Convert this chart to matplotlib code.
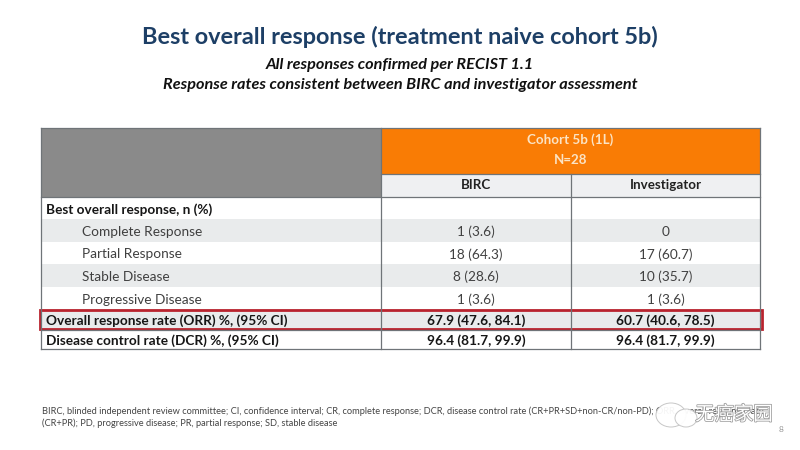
import matplotlib
matplotlib.use('Agg')
import matplotlib.pyplot as plt
import matplotlib.patheffects as pe
from matplotlib.patches import Rectangle, Ellipse

title = 'Best overall response (treatment naive cohort 5b)'
subtitles = ['All responses confirmed per RECIST 1.1',
             'Response rates consistent between BIRC and investigator assessment']
cohort_header = ['Cohort 5b (1L)', 'N=28']
columns = ['BIRC', 'Investigator']
row_labels = ['Best overall response, n (%)', 'Complete Response', 'Partial Response',
              'Stable Disease', 'Progressive Disease',
              'Overall response rate (ORR) %, (95% CI)', 'Disease control rate (DCR) %, (95% CI)']
birc = ['', '1 (3.6)', '18 (64.3)', '8 (28.6)', '1 (3.6)', '67.9 (47.6, 84.1)', '96.4 (81.7, 99.9)']
investigator = ['', '0', '17 (60.7)', '10 (35.7)', '1 (3.6)', '60.7 (40.6, 78.5)', '96.4 (81.7, 99.9)']
footnotes = ['BIRC, blinded independent review committee; CI, confidence interval; CR, complete response; DCR, disease control rate (CR+PR+SD+non-CR/non-PD); ORR, overall response rate',
             '(CR+PR); PD, progressive disease; PR, partial response; SD, stable disease']
watermark = '无癌家园'

plt.rcParams['font.family'] = ['Lato', 'Noto Sans CJK SC', 'DejaVu Sans']

fig = plt.figure(figsize=(8, 4.5), dpi=100)
ax = fig.add_axes([0, 0, 1, 1])
ax.set_xlim(0, 800)
ax.set_ylim(450, 0)
ax.axis('off')

# table layout in pixels
x0, x1, x2, x3 = 41, 381, 571, 760
row_y = [197, 219, 242, 264, 287, 309, 330, 349]
band = ['white', '#e9ebec', 'white', '#e9ebec', 'white', '#e9ebec', 'white']
line = '#6f7478'

def box(x, y, w, h, color):
    ax.add_patch(Rectangle((x, y), w, h, facecolor=color, edgecolor='none'))

box(x0, 128, x1 - x0, 197 - 128, '#8a8a8a')
box(x1, 128, x3 - x1, 174 - 128, '#f97c05')
box(x1, 174, x3 - x1, 197 - 174, '#eff0f2')

for i, label in enumerate(row_labels):
    top, bottom = row_y[i], row_y[i + 1]
    mid = (top + bottom) / 2 + 0.5
    box(x0, top, x3 - x0, bottom - top, band[i])
    main = i == 0 or i >= 5
    weight = 'bold' if main else 'normal'
    color = '#161616' if main else '#404040'
    ax.text(x0 + 5 if main else 82, mid, label, fontsize=9.8, va='center_baseline', ha='left',
            fontweight=weight, color=color)
    ax.text((x1 + x2) / 2, mid, birc[i], fontsize=9.8, va='center_baseline', ha='center',
            fontweight=weight, color=color)
    ax.text((x2 + x3) / 2, mid, investigator[i], fontsize=9.8, va='center_baseline', ha='center',
            fontweight=weight, color=color)

# grid lines
ax.plot([x0, x3], [128, 128], color=line, lw=0.9)
ax.plot([x1, x3], [174, 174], color=line, lw=0.9)
ax.plot([x0, x3], [197, 197], color=line, lw=0.9)
ax.plot([x0, x3], [349, 349], color=line, lw=0.9)
ax.plot([x0, x0], [128, 349], color=line, lw=0.9)
ax.plot([x3, x3], [128, 349], color=line, lw=0.9)
ax.plot([x1, x1], [128, 349], color=line, lw=0.9)
ax.plot([x2, x2], [174, 349], color=line, lw=0.9)
ax.plot([x0, x3], [330, 330], color=line, lw=0.9)

# red highlight around ORR row
ax.add_patch(Rectangle((40, 309.5), 722, 19.5, facecolor='none', edgecolor='#b9232e', lw=2))

ax.text(400, 37, title, fontsize=16.9, fontweight='bold', color='#1d3f66', ha='center', va='center')
ax.text(400, 65, subtitles[0], fontsize=11.7, fontweight='bold', style='italic', color='#111111', ha='center', va='center')
ax.text(400, 85, subtitles[1], fontsize=11.7, fontweight='bold', style='italic', color='#111111', ha='center', va='center')

ax.text((x1 + x3) / 2, 140, cohort_header[0], fontsize=9.6, fontweight='bold', color='#fbe3c4', ha='center', va='center')
ax.text((x1 + x3) / 2, 160, cohort_header[1], fontsize=9.6, fontweight='bold', color='#fbe3c4', ha='center', va='center')
ax.text((x1 + x2) / 2, 185, columns[0], fontsize=9.6, fontweight='bold', color='#222222', ha='center', va='center')
ax.text((x2 + x3) / 2, 185, columns[1], fontsize=9.6, fontweight='bold', color='#222222', ha='center', va='center')

ax.text(42, 411, footnotes[0], fontsize=6.65, color='#444444', ha='left', va='center')
ax.text(42, 423, footnotes[1], fontsize=6.65, color='#444444', ha='left', va='center')
ax.text(781, 430, '8', fontsize=6, color='#999999', ha='center', va='center')

# wechat watermark over the footnote
ax.add_patch(Ellipse((671, 415), 30, 24, facecolor='white', edgecolor='#c4c4c4', lw=0.7, alpha=0.95, zorder=5))
ax.add_patch(Ellipse((686, 418), 22, 18, facecolor='white', edgecolor='#c4c4c4', lw=0.7, alpha=0.95, zorder=5))
ax.text(734, 414, watermark, fontsize=14, color='white', ha='center', va='center', zorder=6,
        path_effects=[pe.withStroke(linewidth=1.1, foreground='#9a9a9a')])

fig.savefig('out.png', dpi=100)
